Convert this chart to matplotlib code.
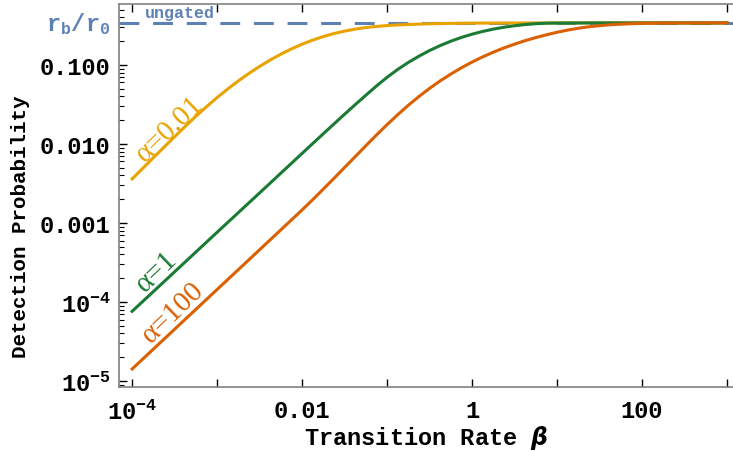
import numpy as np
import matplotlib
matplotlib.use("Agg")
import matplotlib.pyplot as plt
from matplotlib import transforms

plt.rcParams['font.family'] = ['Liberation Mono', 'DejaVu Sans Mono']
plt.rcParams['font.weight'] = 'bold'
plt.rcParams['mathtext.default'] = 'regular'

# values (beta, detection probability)
beta_a001 = [1e-4, 1.334e-4, 1.778e-4, 2.371e-4, 3.162e-4, 4.217e-4, 5.623e-4, 7.499e-4,
             1e-3, 1.334e-3, 1.778e-3, 2.371e-3, 3.162e-3, 4.217e-3, 5.623e-3, 7.499e-3,
             1e-2, 1.334e-2, 1.778e-2, 2.371e-2, 3.162e-2, 4.217e-2, 5.623e-2, 7.499e-2,
             0.1, 0.1334, 0.1778, 0.3162, 0.5623, 1, 3.162, 10, 1000]
p_a001 = [0.003606, 0.00492, 0.00670, 0.00910, 0.01233, 0.01671, 0.02239, 0.02958,
          0.03864, 0.04966, 0.06281, 0.07816, 0.09572, 0.1153, 0.1368, 0.1596,
          0.1828, 0.2061, 0.2286, 0.2495, 0.2679, 0.2838, 0.2972, 0.3069,
          0.3148, 0.3206, 0.3251, 0.3319, 0.3357, 0.3381, 0.3396, 0.3404, 0.3404]

beta_a1 = [1e-4, 3.162e-4, 1e-3, 3.162e-3,
           4.217e-3, 5.623e-3, 7.499e-3, 1e-2, 1.334e-2, 1.778e-2, 2.371e-2, 3.162e-2,
           4.217e-2, 5.623e-2, 7.499e-2, 0.1, 0.1334, 0.1778, 0.2371, 0.3162,
           0.4217, 0.5623, 0.7499, 1, 1.334, 1.778, 2.371, 3.162, 4.217, 5.623,
           7.499, 10, 17.78, 31.62, 1000]
p_a1 = [7.62e-5, 2.41e-4, 7.62e-4, 2.40e-3,
        3.20e-3, 4.27e-3, 5.69e-3, 7.59e-3, 1.012e-2, 1.346e-2, 1.791e-2, 2.377e-2,
        3.141e-2, 4.13e-2, 5.41e-2, 0.0697, 0.0876, 0.1075, 0.1290, 0.1521,
        0.1758, 0.1995, 0.2228, 0.2449, 0.2655, 0.2838, 0.2999, 0.3133, 0.3243, 0.3327,
        0.3373, 0.3388, 0.3396, 0.3400, 0.3400]

beta_a100 = [1e-4, 3.162e-4, 1e-3, 3.162e-3, 1e-2,
             1.334e-2, 1.778e-2, 2.371e-2, 3.162e-2, 4.217e-2, 5.623e-2, 7.499e-2, 0.1,
             0.1334, 0.1778, 0.2371, 0.3162, 0.4217, 0.5623, 0.7499, 1,
             1.334, 1.778, 2.371, 3.162, 4.217, 5.623, 7.499, 10,
             13.34, 17.78, 23.71, 31.62, 42.17, 56.23, 74.99, 100,
             177.8, 316.2, 1000]
p_a100 = [1.419e-5, 4.52e-5, 1.439e-4, 4.58e-4, 1.462e-3,
          1.972e-3, 2.685e-3, 3.664e-3, 5.035e-3, 6.902e-3, 9.484e-3, 1.297e-2, 1.754e-2,
          2.344e-2, 3.083e-2, 3.981e-2, 5.047e-2, 6.281e-2, 7.656e-2, 9.204e-2, 0.1086,
          0.1265, 0.1449, 0.1641, 0.1832, 0.2028, 0.2218, 0.2404, 0.2588,
          0.2761, 0.2911, 0.3041, 0.3141, 0.3221, 0.3281, 0.3327, 0.3362,
          0.3385, 0.3396, 0.3404]

r_ratio = 0.34

fig = plt.figure(figsize=(7.33, 4.52), dpi=100)
ax = fig.add_axes([0.1623, 0.1416, 0.8377, 0.8473])

ax.axhline(r_ratio, color='#5E81B5', lw=2.2, dashes=(6.5, 4.5), zorder=1)
ax.plot(beta_a001, p_a001, color='#E8A300', lw=2.2, zorder=2, solid_joinstyle='round')
ax.plot(beta_a1, p_a1, color='#1B7A34', lw=2.2, zorder=3, solid_joinstyle='round')
ax.plot(beta_a100, p_a100, color='#DA6002', lw=2.2, zorder=4, solid_joinstyle='round')

ax.set_xscale('log')
ax.set_yscale('log')
ax.set_xlim(7.0e-5, 1178)
ax.set_ylim(8.4e-6, 0.59)

ax.set_xticks([1e-4, 1e-3, 1e-2, 1e-1, 1, 10, 100, 1000],
              [r'$\mathregular{10^{-4}}$', '', '0.01', '', '1', '', '100', ''])
ax.xaxis.set_minor_locator(matplotlib.ticker.NullLocator())
ax.set_yticks([1e-5, 1e-4, 1e-3, 1e-2, 1e-1],
              [r'$\mathregular{10^{-5}}$', r'$\mathregular{10^{-4}}$', '0.001', '0.010', '0.100'])
ax.yaxis.set_minor_locator(matplotlib.ticker.LogLocator(base=10, subs=np.arange(2, 10)))
ax.yaxis.set_minor_formatter(matplotlib.ticker.NullFormatter())

ax.tick_params(which='both', direction='in', top=True, right=False, labelsize=17)
ax.tick_params(axis='x', pad=9)
ax.tick_params(axis='y', pad=6)
ax.tick_params(which='major', length=6, width=1)
ax.tick_params(which='minor', length=3.5, width=0.8)
for s in ['left', 'bottom', 'top']:
    ax.spines[s].set_color('#808080')
    ax.spines[s].set_linewidth(1.2)
ax.spines['right'].set_visible(False)

ax.set_xlabel(r'Transition Rate $\mathit{\beta}$', fontsize=17, fontweight='bold')
ax.xaxis.set_label_coords(0.5, -0.093)
ax.set_ylabel('Detection Probability', fontsize=15, fontweight='bold')
ax.yaxis.set_label_coords(-0.145, 0.42)

# curve labels
lab_font = dict(fontsize=21, family='Liberation Serif', fontweight='normal',
                rotation=44, rotation_mode='anchor', ha='center', va='center')
ax.text(2.75e-4, 0.0158, 'α=0.01', color='#E8A300', **lab_font)
ax.text(1.95e-4, 2.5e-4, 'α=1', color='#1B7A34', **lab_font)
ax.text(3.05e-4, 7.4e-5, 'α=100', color='#DA6002', **lab_font)

trans = transforms.blended_transform_factory(ax.transAxes, ax.transData)
ax.text(-0.014, r_ratio, r'$\mathregular{r_b/r_0}$', transform=trans, color='#5E81B5',
        fontsize=17, ha='right', va='center')
ax.text(3.67e-4, 0.455, 'ungated', color='#5E81B5', fontsize=12, ha='center', va='center')

fig.savefig('out.png', dpi=100)
